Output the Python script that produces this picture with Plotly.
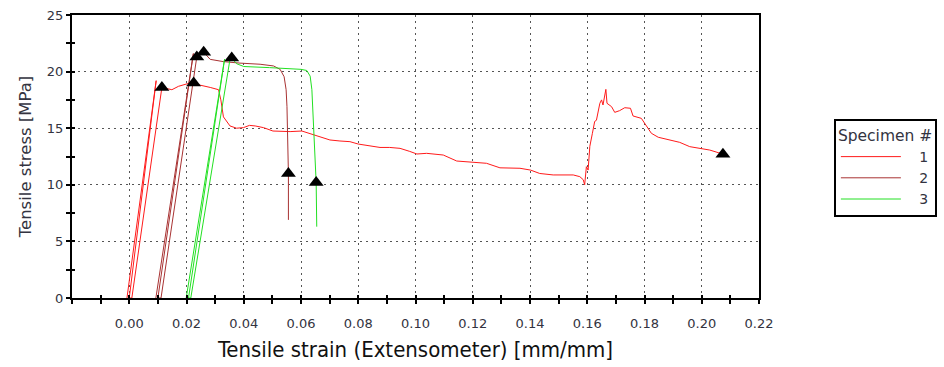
import plotly.graph_objects as go

# ---- Specimen 1 ----
s1_strain = [-0.0008, 0.0094, 0.0000, 0.0009, 0.0114, 0.0149, 0.0172, 0.0213, 0.0225, 0.0248,
             0.0283, 0.0312, 0.0320, 0.0329, 0.0352, 0.0375, 0.0399, 0.0420, 0.0440, 0.0469,
             0.0502, 0.0530, 0.0562, 0.0603, 0.0643, 0.0701, 0.0736, 0.0771, 0.0800, 0.0840,
             0.0876, 0.0910, 0.0946, 0.0980, 0.1005, 0.1039, 0.1070, 0.1097, 0.1144, 0.1202,
             0.1248, 0.1295, 0.1335, 0.1365, 0.1402, 0.1434, 0.1481, 0.1520, 0.1551, 0.1574,
             0.1586, 0.1591, 0.1597, 0.1603, 0.1609, 0.1618, 0.1626, 0.1632, 0.1644, 0.1650,
             0.1655, 0.1665, 0.1669, 0.1685, 0.1696, 0.1713, 0.1731, 0.1751, 0.1760, 0.1789,
             0.1807, 0.1824, 0.1848, 0.1877, 0.1923, 0.1958, 0.1981, 0.2005, 0.2028, 0.2050,
             0.2074]
s1_stress = [0.0, 19.2, 0.0, 0.0, 18.6, 18.4, 18.7, 19.0, 19.0, 18.8,
             18.6, 18.4, 17.5, 16.0, 15.2, 15.0, 15.05, 15.25, 15.2, 15.05,
             14.75, 14.7, 14.7, 14.75, 14.4, 13.96, 13.87, 13.81, 13.6, 13.45,
             13.3, 13.3, 13.22, 12.95, 12.72, 12.78, 12.7, 12.63, 12.1, 11.99,
             11.9, 11.5, 11.5, 11.46, 11.3, 11.0, 10.87, 10.9, 10.87, 10.72,
             10.45, 10.0, 11.6, 11.3, 13.4, 14.55, 15.6, 15.7, 17.2, 17.5,
             17.05, 18.43, 17.2, 16.9, 16.4, 16.55, 16.81, 16.76, 16.08, 15.87,
             15.13, 14.55, 14.2, 14.02, 13.75, 13.37, 13.28, 13.14, 13.07, 12.9,
             12.7]

# ---- Specimen 2 ----
s2_strain = [0.0093, 0.0224, 0.0100, 0.0111, 0.0236, 0.0250, 0.0260, 0.0283, 0.0300, 0.0329,
             0.0387, 0.0457, 0.0504, 0.0527, 0.0541, 0.0548, 0.0551, 0.0553, 0.0556, 0.0556]
s2_stress = [0.0, 21.6, 0.0, 0.0, 21.3, 21.5, 21.7, 21.08, 21.0, 20.88,
             20.75, 20.65, 20.5, 20.2, 19.55, 18.4, 16.9, 14.0, 11.0, 6.9]

# ---- Specimen 3 ----
s3_strain = [0.0199, 0.0333, 0.0207, 0.0215, 0.0352, 0.0358, 0.0375, 0.0400, 0.0490, 0.0600,
             0.0620, 0.0632, 0.0638, 0.0643, 0.0650, 0.0653, 0.0655]
s3_stress = [0.0, 21.1, 0.0, 0.0, 21.1, 21.2, 20.7, 20.45, 20.35, 20.2,
             20.1, 19.6, 18.4, 15.4, 12.0, 10.2, 6.3]

# ---- Result points (yield / max / break) ----
pt_strain = [0.0114, 0.0225, 0.2074, 0.0236, 0.0260, 0.0556, 0.0358, 0.0653]
pt_stress = [18.6, 19.0, 12.7, 21.3, 21.7, 11.0, 21.2, 10.2]

specimen_names = ["1", "2", "3"]
specimen_colors = ["#ff1a1a", "#a83232", "#22e022"]

x_major = [round(0.02 * i, 2) for i in range(12)]
x_labels = ["%.2f" % v for v in x_major]
y_major = [0, 5, 10, 15, 20, 25]

FONT = "DejaVu Sans"
TXT = "#333340"
NB = "\u00a0"

fig = go.Figure()
for name, color, xs, ys in zip(specimen_names, specimen_colors,
                               [s1_strain, s2_strain, s3_strain],
                               [s1_stress, s2_stress, s3_stress]):
    fig.add_trace(go.Scatter(x=xs, y=ys, mode="lines", name=NB * 3 + name,
                             line=dict(color=color, width=1)))

fig.add_trace(go.Scatter(x=pt_strain, y=pt_stress, mode="markers", showlegend=False,
                         marker=dict(symbol="triangle-up", size=13, color="black")))

grid = dict(gridcolor="#555555", gridwidth=1.3, griddash="2px,4px")

fig.update_layout(
    width=944, height=367,
    margin=dict(l=72, r=185, t=15, b=69, autoexpand=False),
    paper_bgcolor="white", plot_bgcolor="white",
    font=dict(family=FONT, size=13, color=TXT),
    xaxis=dict(range=[-0.02, 0.22], tickvals=x_major, ticktext=x_labels, automargin=False,
               showgrid=True, **grid, zeroline=False,
               showline=True, linecolor="black", linewidth=2, mirror=True,
               ticks="outside", ticklen=4, tickwidth=1.5, tickcolor="black",
               minor=dict(dtick=0.01, tick0=0, ticks="outside", ticklen=4,
                          tickwidth=1.5, tickcolor="black", showgrid=False),
               ticklabelstandoff=8,
               tickfont=dict(family=FONT, size=13, color=TXT),
               title=dict(text="Tensile strain (Extensometer) [mm/mm]",
                          font=dict(family="DejaVu Sans Condensed, DejaVu Sans", size=22,
                                    color="#111111"),
                          standoff=12)),
    yaxis=dict(range=[0, 25], tickvals=y_major, automargin=False,
               showgrid=True, **grid, zeroline=False,
               showline=True, linecolor="black", linewidth=2, mirror=True,
               ticks="outside", ticklen=4, tickwidth=1.5, tickcolor="black",
               minor=dict(dtick=2.5, tick0=0, ticks="outside", ticklen=4,
                          tickwidth=1.5, tickcolor="black", showgrid=False),
               tickfont=dict(family=FONT, size=13, color=TXT),
               title=dict(text="Tensile stress [MPa]",
                          font=dict(family=FONT, size=16.5, color="#333340"),
                          standoff=11)),
    # inside half of the crossing tick marks
    xaxis2=dict(overlaying="x", anchor="y", side="bottom", range=[-0.02, 0.22],
                showgrid=False, zeroline=False, showticklabels=False, automargin=False,
                tickvals=x_major, ticks="inside", ticklen=3, tickwidth=1.5, tickcolor="black",
                minor=dict(dtick=0.01, tick0=0, ticks="inside", ticklen=3,
                           tickwidth=1.5, tickcolor="black")),
    yaxis2=dict(overlaying="y", anchor="x", side="left", range=[0, 25],
                showgrid=False, zeroline=False, showticklabels=False, automargin=False,
                tickvals=y_major, ticks="inside", ticklen=3, tickwidth=1.5, tickcolor="black",
                minor=dict(dtick=2.5, tick0=0, ticks="inside", ticklen=3,
                           tickwidth=1.5, tickcolor="black")),
    legend=dict(x=1.109, xanchor="left", y=0.633, yanchor="top",
                bordercolor="black", borderwidth=2, bgcolor="white",
                font=dict(family=FONT, size=14, color=TXT),
                title=dict(text="Specimen #", font=dict(family=FONT, size=15.5, color=TXT)),
                itemwidth=60, tracegroupgap=0),
)

# invisible anchor so the overlay axes get drawn
fig.add_trace(go.Scatter(x=[None], y=[None], xaxis="x2", yaxis="y2",
                         showlegend=False, hoverinfo="skip"))

fig.write_html("out.html")
